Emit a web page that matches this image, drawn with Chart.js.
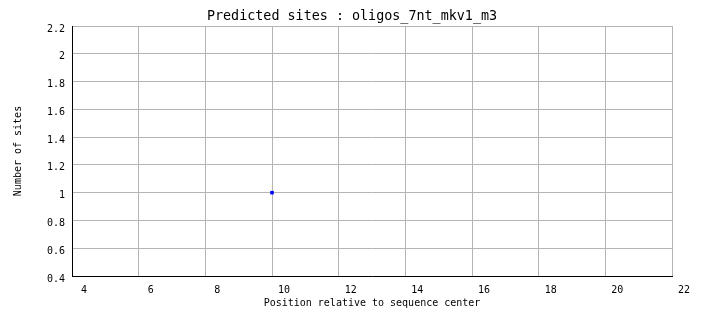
<!DOCTYPE html>
<html>
<head>
<meta charset="utf-8">
<script src="https://cdn.jsdelivr.net/npm/chart.js@4/dist/chart.umd.min.js"></script>
<style>
  body { margin: 0; background: #fff; }
</style>
</head>
<body>
<canvas id="chart" width="704" height="328"></canvas>
<script>
// data
const positions = [10];
const siteCounts = [1];
const xTickRange = [4, 22];
const yTickRange = [0.4, 2.2];

const mono = 'DejaVu Sans Mono';
const gridGray = '#b4b4b4';

const ctx = document.getElementById('chart');

new Chart(ctx, {
    type: 'scatter',
    data: {
        datasets: [{
            label: 'sites',
            data: positions.map((x, i) => ({ x: x, y: siteCounts[i] })),
            backgroundColor: '#0000ff',
            borderColor: '#0000ff',
            borderWidth: 0,
            pointStyle: 'rect',
            pointRadius: 2.5,
            pointHoverRadius: 2.5
        }]
    },
    options: {
        responsive: false,
        animation: false,
        layout: { padding: 0 },
        plugins: {
            legend: { display: false },
            tooltip: { enabled: false },
            title: {
                display: true,
                text: 'Predicted sites : oligos_7nt_mkv1_m3',
                color: '#000',
                font: { family: mono, size: 13.4, weight: 'normal', lineHeight: '16px' },
                padding: { top: 9, bottom: 1 }
            }
        },
        scales: {
            x: {
                type: 'linear',
                min: xTickRange[0],
                max: xTickRange[1],
                afterFit: s => { s.height = 52; },
                border: { display: true, color: '#000', width: 1 },
                grid: { color: gridGray, drawTicks: false },
                ticks: {
                    stepSize: 2,
                    color: '#000',
                    padding: 8,
                    labelOffset: 12,
                    maxRotation: 0,
                    font: { family: mono, size: 10 }
                },
                title: {
                    display: true,
                    text: 'Position relative to sequence center',
                    color: '#000',
                    font: { family: mono, size: 10 },
                    padding: { top: 0, bottom: 19 }
                }
            },
            y: {
                type: 'linear',
                min: yTickRange[0],
                max: yTickRange[1],
                afterFit: s => { s.width = 72; },
                border: { display: true, color: '#000', width: 1 },
                grid: { color: gridGray, drawTicks: false },
                ticks: {
                    stepSize: 0.2,
                    color: '#000',
                    padding: 7,
                    labelOffset: 3,
                    font: { family: mono, size: 10 },
                    callback: v => +v.toFixed(1)
                },
                title: {
                    display: true,
                    text: 'Number of sites',
                    color: '#000',
                    font: { family: mono, size: 10 },
                    padding: { top: 12, bottom: 0 }
                }
            },
            // empty right strip so the title stays centred on the whole canvas
            spacer: {
                type: 'linear',
                position: 'right',
                display: true,
                afterFit: s => { s.width = 32; },
                border: { display: false },
                grid: { display: false, drawTicks: false },
                ticks: { display: false }
            }
        }
    }
});
</script>
</body>
</html>
